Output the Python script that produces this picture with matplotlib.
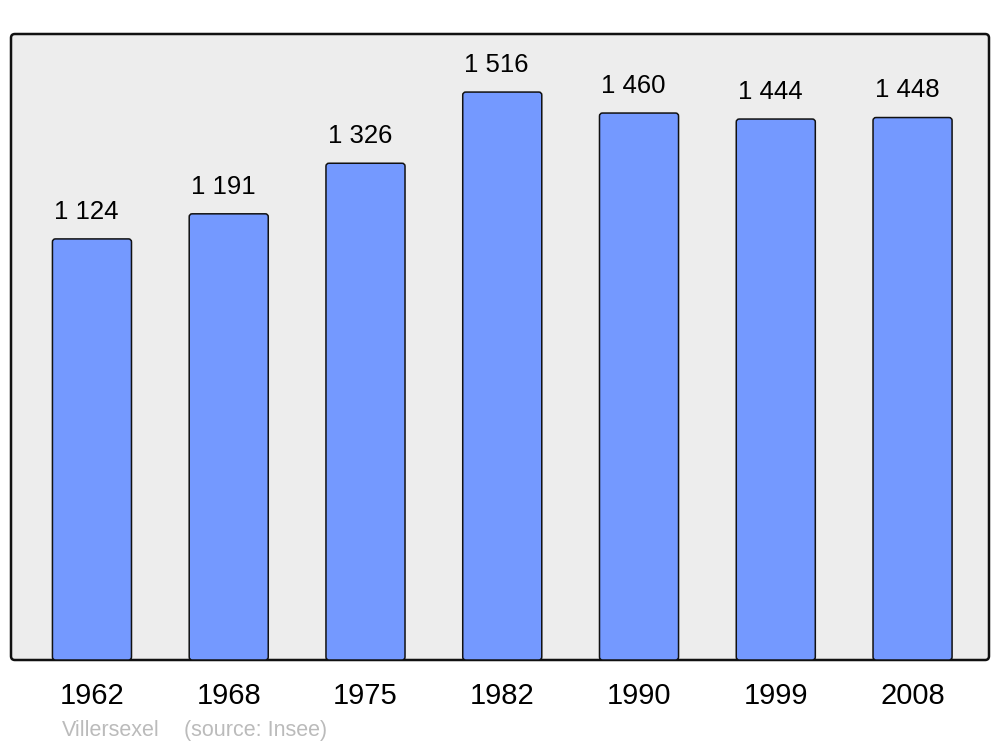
import matplotlib
matplotlib.use('Agg')
import matplotlib.pyplot as plt
from matplotlib.patches import FancyBboxPatch
import numpy as np

years = ['1962', '1968', '1975', '1982', '1990', '1999', '2008']
population = [1124, 1191, 1326, 1516, 1460, 1444, 1448]
labels = ['1 124', '1 191', '1 326', '1 516', '1 460', '1 444', '1 448']

plt.rcParams['font.family'] = ['Liberation Sans', 'DejaVu Sans']

fig = plt.figure(figsize=(10, 7.47), dpi=100)
ax = fig.add_axes([0.011, 1 - 660 / 747, 0.978, 626 / 747])
ax.set_facecolor('none')

x = np.arange(len(years))
bw = 0.578
ax.set_xlim(-0.592, 6.559)
ax.set_ylim(0, 1671)

# rounded background panel
ax_w, ax_h = 978, 626
panel = FancyBboxPatch((0, 0), 1, 1, boxstyle='round,pad=0,rounding_size=0.004',
                       transform=ax.transAxes, facecolor='#ededed',
                       edgecolor='#111111', linewidth=1.8,
                       mutation_aspect=ax_w / ax_h, clip_on=False, zorder=0)
ax.add_patch(panel)

# bars through ax.bar, then redrawn with rounded corners
bars = ax.bar(x, population, width=bw, color='none', edgecolor='none')
xpx = ax_w / (6.559 + 0.592)
ypx = ax_h / 1671
for b in bars:
    rb = FancyBboxPatch((b.get_x(), b.get_y()), b.get_width(), b.get_height(),
                        boxstyle='round,pad=0,rounding_size=%f' % (3 / xpx),
                        mutation_aspect=xpx / ypx,
                        facecolor='#7499ff', edgecolor='#111111', linewidth=1.1,
                        zorder=2)
    ax.add_patch(rb)

for xi, v, lab in zip(x, population, labels):
    ax.annotate(lab, (xi, v), xytext=(-4, 19.5), textcoords='offset points',
                ha='center', va='center', fontsize=18.5, color='#000000')

for s in ax.spines.values():
    s.set_visible(False)
ax.set_yticks([])
ax.set_xticks(x)
ax.set_xticklabels(years, fontsize=21)
ax.tick_params(axis='x', length=0, pad=15.5)
for t in ax.get_xticklabels():
    t.set_x(t.get_position()[0])

fig.text(0.062, 1 - 730.5 / 747, 'Villersexel', fontsize=15.5, color='#bbbbbb',
         ha='left', va='center')
fig.text(0.184, 1 - 730.5 / 747, '(source: Insee)', fontsize=15.5, color='#bbbbbb',
         ha='left', va='center')

fig.savefig('out.png', dpi=100, facecolor='white')
